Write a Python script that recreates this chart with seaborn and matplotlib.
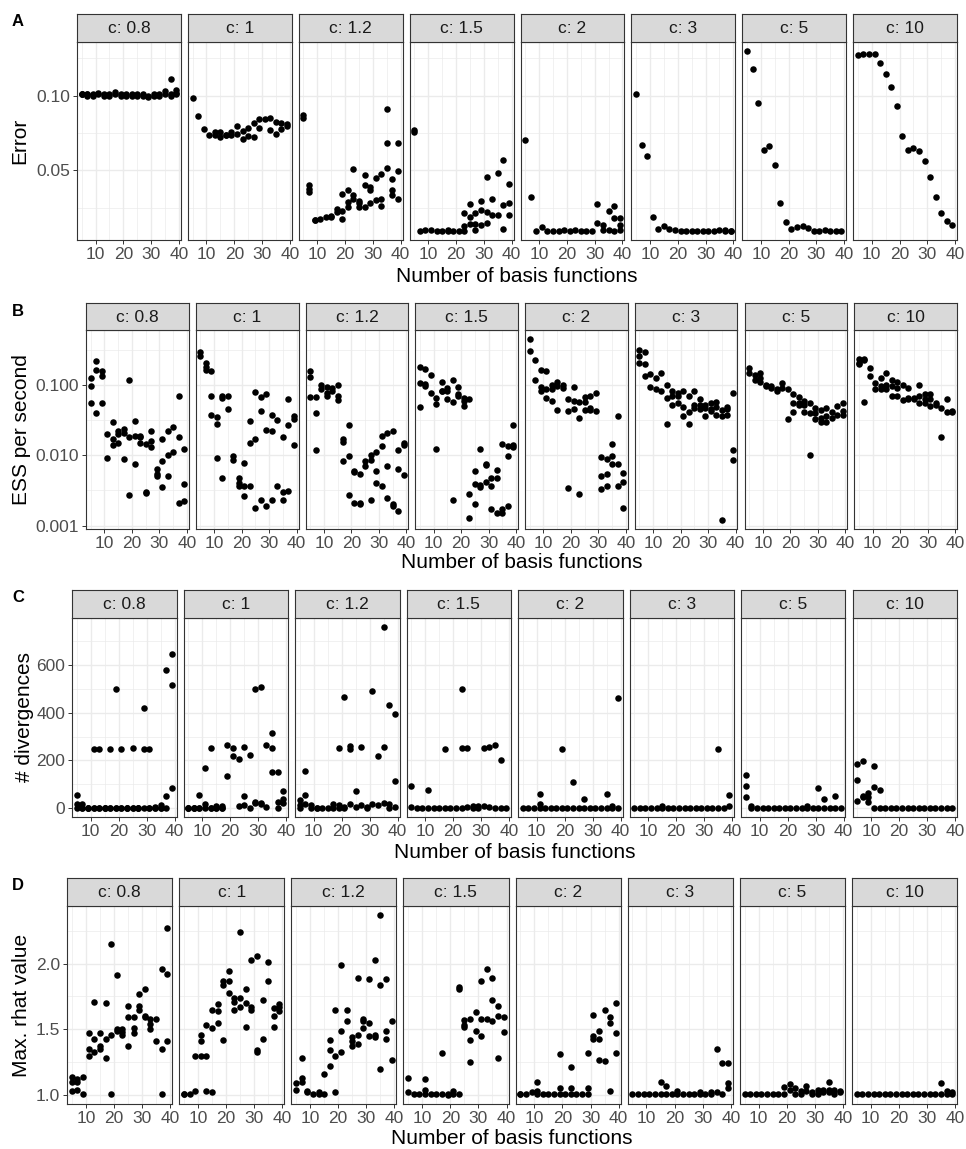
import numpy as np
import pandas as pd
import matplotlib
matplotlib.use("Agg")
import matplotlib.pyplot as plt
import seaborn as sns
from matplotlib.ticker import FixedLocator, FixedFormatter

sns.set_theme(style="white")
plt.rcParams['font.family'] = ['Liberation Sans', 'DejaVu Sans']

# ---------------- data ----------------
N_BASIS = [5, 7, 9, 11, 13, 15, 17, 19, 21, 23, 25, 27, 29, 31, 33, 35, 37, 39]
C_LEVELS = ["0.8", "1", "1.2", "1.5", "2", "3", "5", "10"]

ERROR = {
    "0.8": [[0.101, 0.101, 0.101], [0.101, 0.101, 0.100], [0.101, 0.100], [0.101, 0.102], [0.101, 0.100],
            [0.100, 0.101], [0.1027, 0.101], [0.101, 0.100], [0.101, 0.100], [0.100, 0.101], [0.100, 0.101],
            [0.101, 0.100], [0.099, 0.100], [0.100, 0.101], [0.101, 0.100], [0.1034, 0.101],
            [0.111, 0.101, 0.100], [0.1038, 0.102, 0.101]],
    "1": [[0.0987], [0.0865], [0.0776], [0.074], [0.0758, 0.074], [0.0758, 0.0724], [0.0735, 0.074],
          [0.0758, 0.074], [0.0796, 0.0747], [0.0762, 0.0713], [0.0785, 0.0729], [0.0818, 0.0724],
          [0.0843, 0.0787], [0.0847], [0.0852, 0.077], [0.0825, 0.0747], [0.0818, 0.078], [0.081, 0.080]],
    "1.2": [[0.087, 0.0854], [0.040, 0.0378, 0.0355], [0.017, 0.0165], [0.0175], [0.0186], [0.0197, 0.019],
            [0.0242, 0.022], [0.0343, 0.023, 0.0176], [0.0366, 0.0287, 0.0253], [0.0511, 0.0332, 0.031],
            [0.0298, 0.0253, 0.028], [0.0466, 0.040, 0.0253], [0.0388, 0.0366, 0.0282], [0.045, 0.0302],
            [0.0473, 0.031, 0.026], [0.091, 0.0684, 0.0516], [0.0444, 0.0366, 0.0336], [0.0684, 0.0495, 0.031]],
    "1.5": [[0.0774, 0.0758], [0.0096], [0.0101], [0.0099], [0.0095], [0.0095], [0.0101, 0.0095], [0.0095],
            [0.0095], [0.0215, 0.013, 0.0096], [0.0276, 0.0186, 0.0141], [0.0213, 0.0141, 0.0103],
            [0.0298, 0.0235, 0.0135], [0.0455, 0.0219, 0.0145], [0.031, 0.0204], [0.0484, 0.0204],
            [0.0567, 0.0271, 0.0108], [0.0406, 0.028, 0.0202]],
    "2": [[0.0706], [0.032], [0.0096], [0.0118], [0.0096], [0.0096], [0.0096], [0.0098], [0.0096], [0.0098],
          [0.0096], [0.0096], [0.0096], [0.0276, 0.0145], [0.0135, 0.0101], [0.0231, 0.0101],
          [0.026, 0.0182, 0.0096], [0.0182, 0.0135, 0.0101]],
    "3": [[0.101], [0.0668], [0.0594], [0.0186], [0.0107], [0.0125], [0.0107], [0.0098], [0.0096], [0.0096],
          [0.0096], [0.0096], [0.0096], [0.0096], [0.0096], [0.0098], [0.0098, 0.0094], [0.0096, 0.0094]],
    "5": [[0.130], [0.118], [0.0949], [0.0635], [0.0664], [0.0538], [0.0283], [0.0152], [0.0107], [0.0118],
          [0.0129], [0.0112], [0.0096], [0.0096], [0.0098], [0.0096], [0.0094], [0.0094]],
    "10": [[0.1274], [0.128], [0.1283], [0.1277], [0.1222], [0.1144], [0.1057], [0.0933], [0.0729], [0.0635],
           [0.065], [0.063], [0.0563], [0.0455], [0.032], [0.0213], [0.0159], [0.0137]],
}

ESS = {
    "0.8": [[0.125, 0.097, 0.055], [0.22, 0.167, 0.04], [0.16, 0.134, 0.055], [0.02, 0.0092],
            [0.03, 0.017, 0.014], [0.022, 0.02, 0.015], [0.0235, 0.021, 0.0088], [0.12, 0.018, 0.0027],
            [0.031, 0.019, 0.0075], [0.019, 0.018, 0.015], [0.0144, 0.003, 0.0029], [0.022, 0.016, 0.013],
            [0.0064, 0.0054, 0.005], [0.017, 0.0082, 0.0035], [0.022, 0.0102, 0.005], [0.025, 0.011],
            [0.07, 0.018, 0.0021], [0.0122, 0.0039, 0.0022]],
    "1": [[0.30, 0.26], [0.21, 0.18, 0.167], [0.158, 0.071, 0.037], [0.035, 0.028, 0.0093],
          [0.071, 0.066, 0.0047], [0.071, 0.046], [0.0098, 0.0087], [0.0047, 0.004, 0.0037],
          [0.0079, 0.0037, 0.0026], [0.031, 0.015, 0.0036], [0.08, 0.017, 0.0018], [0.068, 0.043, 0.0023],
          [0.076, 0.023, 0.0019], [0.038, 0.022, 0.0023], [0.032, 0.0036], [0.018, 0.003, 0.0023],
          [0.063, 0.027, 0.0031], [0.036, 0.033, 0.014]],
    "1.2": [[0.158, 0.13, 0.067], [0.067, 0.04, 0.012], [0.1, 0.087], [0.095, 0.078, 0.071], [0.092, 0.082],
            [0.1, 0.071, 0.061], [0.017, 0.0155, 0.0084], [0.027, 0.0098, 0.0027], [0.006, 0.0057, 0.0021],
            [0.0055, 0.0021, 0.002], [0.0084, 0.0071], [0.0102, 0.0087, 0.0023], [0.0112, 0.006, 0.004],
            [0.019, 0.0136, 0.0036], [0.021, 0.0071, 0.0025], [0.022, 0.002, 0.0019], [0.012, 0.0064, 0.0016],
            [0.015, 0.014, 0.0052]],
    "1.5": [[0.18, 0.108, 0.049], [0.17, 0.105, 0.097], [0.14, 0.078], [0.065, 0.054, 0.0125],
            [0.11, 0.084, 0.082], [0.092, 0.083, 0.063], [0.12, 0.057, 0.0023], [0.094, 0.076, 0.071],
            [0.066, 0.059, 0.051], [0.063, 0.0028, 0.0013], [0.0059, 0.0039, 0.002], [0.0122, 0.0038, 0.0035],
            [0.0075, 0.0072, 0.0042], [0.0048, 0.0036, 0.0017], [0.0062, 0.0048, 0.0015],
            [0.0144, 0.0017, 0.0015], [0.0137, 0.0098, 0.0019], [0.027, 0.014, 0.013]],
    "2": [[0.455, 0.31], [0.23, 0.12], [0.163, 0.095, 0.082], [0.158, 0.087, 0.066], [0.1, 0.087, 0.059],
          [0.11, 0.097, 0.044], [0.1, 0.092], [0.063, 0.043, 0.0034], [0.095, 0.059, 0.046],
          [0.057, 0.034, 0.0028], [0.068, 0.057, 0.045], [0.071, 0.048, 0.044], [0.078, 0.043],
          [0.0095, 0.005, 0.0033], [0.009, 0.0055, 0.0037], [0.0147, 0.0098, 0.0075], [0.036, 0.0075, 0.0036],
          [0.0056, 0.0042, 0.0018]],
    "3": [[0.32, 0.26, 0.21], [0.30, 0.2, 0.134], [0.146, 0.095], [0.127, 0.089], [0.15, 0.082],
          [0.1, 0.066, 0.028], [0.082, 0.071, 0.052], [0.078, 0.07, 0.056], [0.082, 0.049, 0.036],
          [0.07, 0.041, 0.028], [0.082, 0.053, 0.048], [0.063, 0.053, 0.046], [0.053, 0.048, 0.036],
          [0.056, 0.046, 0.043], [0.057, 0.049, 0.038], [0.045, 0.036, 0.0012], [0.049, 0.046, 0.037],
          [0.078, 0.012, 0.0085]],
    "5": [[0.175, 0.15], [0.142, 0.12], [0.15, 0.127, 0.11], [0.097, 0.1], [0.097, 0.092], [0.089, 0.082],
          [0.108, 0.092], [0.089, 0.033], [0.074, 0.056, 0.041], [0.068, 0.056, 0.052], [0.059, 0.052, 0.041],
          [0.055, 0.04, 0.01], [0.048, 0.04, 0.033], [0.044, 0.034, 0.03], [0.048, 0.036, 0.03], [0.041, 0.034],
          [0.05, 0.038], [0.055, 0.043, 0.038]],
    "10": [[0.24, 0.21, 0.2], [0.235, 0.225, 0.058], [0.175, 0.134], [0.108, 0.087], [0.127, 0.097, 0.087],
           [0.15, 0.1, 0.089], [0.12, 0.097, 0.071], [0.11, 0.092, 0.071], [0.1, 0.061], [0.092, 0.066, 0.063],
           [0.066, 0.063], [0.1, 0.071, 0.056], [0.074, 0.063, 0.056], [0.074, 0.064, 0.05], [0.056, 0.053],
           [0.048, 0.018], [0.064, 0.041], [0.043, 0.041]],
}

DIVERGENCES = {
    "0.8": [[53, 18, 0], [15, 0, 0], [0, 0, 0], [249, 0, 0], [249, 0, 0], [0, 0, 0], [249, 0, 0], [501, 0, 0],
            [249, 0, 0], [0, 0, 0], [253, 0, 0], [0, 0, 0], [421, 249, 0], [249, 0, 0], [4, 0, 0], [11, 0, 0],
            [578, 49, 0], [648, 518, 84]],
    "1": [[0, 0, 0], [0, 0, 0], [56, 0, 0], [169, 15, 0], [252, 0, 0], [7, 0, 0], [7, 0, 0], [266, 134],
          [252, 217], [206, 7], [256, 49, 14], [223, 0], [501, 25, 21], [508, 21, 15], [266, 4],
          [315, 252, 150], [150, 25, 0], [71, 39, 21]],
    "1.2": [[32, 14, 0], [154, 53, 15], [11, 0], [0, 0], [0], [0], [15, 0], [253, 11, 0], [466, 4, 0],
            [259, 249, 15], [70, 4], [256, 11], [4, 0], [491, 15], [218, 11], [760, 256, 21], [431, 15, 0],
            [396, 112, 4]],
    "1.5": [[91, 4], [0], [0], [77, 0], [0], [0], [249, 0], [0], [0], [501, 253, 0], [252, 4], [7, 0], [7, 0],
            [252, 7], [256, 4], [263, 0], [203, 0], [0]],
    "2": [[0], [0], [0], [60, 18, 0], [0], [0], [0], [249, 0], [0], [109, 0], [0], [39, 0], [0], [0], [0],
          [60, 0], [7, 0], [462, 0]],
    "3": [[0], [0], [0], [0], [0], [7, 0], [0], [0], [0], [0], [0], [0], [0], [0], [0], [249, 0], [0], [53, 7]],
    "5": [[140, 92, 45], [7, 0], [0], [0], [0], [0], [0], [0], [0], [0], [0], [7, 0], [0], [85, 0], [39, 0],
          [0], [49, 0], [0]],
    "10": [[185, 119, 28], [197, 49, 46], [63, 46, 25], [175, 88, 0], [77, 0], [0], [0], [0], [0], [0], [0],
           [0], [0], [0], [0], [0], [0], [0]],
}

RHAT = {
    "0.8": [[1.14, 1.10, 1.03], [1.12, 1.10, 1.04], [1.14, 1.01], [1.47, 1.35, 1.30], [1.71, 1.43, 1.33],
            [1.47, 1.37, 1.35], [1.70, 1.43, 1.28], [2.15, 1.46, 1.01], [1.91, 1.50, 1.49], [1.50, 1.48, 1.46],
            [1.68, 1.59, 1.37], [1.59, 1.51, 1.47], [1.77, 1.68, 1.65], [1.81, 1.60, 1.59], [1.58, 1.54, 1.50],
            [1.58, 1.41], [1.96, 1.35, 1.01], [2.27, 1.92, 1.41]],
    "1": [[1.01, 1.01], [1.01], [1.30, 1.03], [1.46, 1.41, 1.30], [1.53, 1.30, 1.03], [1.65, 1.51, 1.02],
          [1.69, 1.64, 1.55], [1.87, 1.84, 1.42], [1.94, 1.87, 1.78], [1.74, 1.71, 1.65], [2.24, 1.74, 1.67],
          [1.81, 1.70, 1.52], [2.03, 1.67, 1.65], [2.06, 1.34, 1.33], [1.72, 1.43], [2.01, 1.87],
          [1.66, 1.60, 1.52], [1.69, 1.67, 1.64]],
    "1.2": [[1.09, 1.04], [1.28, 1.13, 1.10], [1.03, 1.02], [1.01], [1.02, 1.01], [1.16, 1.01],
            [1.42, 1.34, 1.22], [1.65, 1.30, 1.02], [1.99, 1.49, 1.33], [1.65, 1.56], [1.44, 1.41, 1.37],
            [1.89, 1.46, 1.39], [1.58, 1.56, 1.51], [1.88, 1.55, 1.45], [2.03, 1.46, 1.44], [2.37, 1.84, 1.20],
            [1.88, 1.49, 1.43], [1.56, 1.27]],
    "1.5": [[1.13, 1.02], [1.01], [1.01], [1.12, 1.04, 1.01], [1.01], [1.01], [1.32, 1.01], [1.01, 1.00],
            [1.03, 1.01], [1.82, 1.81, 1.01], [1.57, 1.53, 1.52], [1.58, 1.42, 1.25], [1.63, 1.49],
            [1.87, 1.58, 1.45], [1.96, 1.58], [1.89, 1.72, 1.56], [1.68, 1.60, 1.28], [1.59, 1.48]],
    "2": [[1.01, 1.01], [1.01], [1.02], [1.10, 1.03, 1.01], [1.01], [1.01], [1.01], [1.31, 1.05, 1.01], [1.01],
          [1.21, 1.05, 1.01], [1.01], [1.01], [1.32, 1.05, 1.01], [1.61, 1.45, 1.43], [1.49, 1.43, 1.27],
          [1.65, 1.26], [1.59, 1.55, 1.03], [1.70, 1.47, 1.32]],
    "3": [[1.01], [1.01], [1.01], [1.01], [1.01], [1.10, 1.01], [1.07, 1.01], [1.01], [1.03, 1.01], [1.01],
          [1.01], [1.01], [1.02, 1.01], [1.01], [1.02, 1.01], [1.35, 1.02], [1.24, 1.01], [1.24, 1.09, 1.05]],
    "5": [[1.01], [1.01], [1.01], [1.01], [1.01], [1.01], [1.01], [1.06, 1.01], [1.08, 1.04], [1.05, 1.01],
          [1.03, 1.01], [1.07, 1.03], [1.02, 1.01], [1.04, 1.01], [1.04, 1.02], [1.10, 1.04, 1.02],
          [1.04, 1.01], [1.02, 1.03]],
    "10": [[1.01], [1.01], [1.01], [1.01], [1.01], [1.01], [1.01], [1.01], [1.01], [1.01], [1.01], [1.01],
           [1.01], [1.01], [1.01], [1.09, 1.01], [1.03, 1.01], [1.02, 1.01]],
}


def to_long(metric, table):
    rows = []
    for c in C_LEVELS:
        for n, vals in zip(N_BASIS, table[c]):
            for v in vals:
                rows.append((metric, c, n, v))
    return rows


df = pd.DataFrame(
    to_long("error", ERROR) + to_long("ess", ESS) + to_long("div", DIVERGENCES) + to_long("rhat", RHAT),
    columns=["metric", "c", "n", "value"],
)

# ---------------- layout ----------------
W, H = 966, 1149
fig = plt.figure(figsize=(W / 100, H / 100), dpi=100)
fig.patch.set_facecolor("white")

ROWS = [
    dict(metric="error", tag="A", title="Error", left=77, st=14, sb=42, pb=240, xl=276, yl=20, log=False,
         ticks=[0.05, 0.10], labels=["0.05", "0.10"], minor=[0.025, 0.075, 0.125]),
    dict(metric="ess", tag="B", title="ESS per second", left=86, st=303, sb=330, pb=529, xl=563, yl=22, log=True,
         ticks=[0.001, 0.01, 0.1], labels=["0.001", "0.010", "0.100"],
         minor=[10 ** -2.5, 10 ** -1.5, 10 ** -0.5]),
    dict(metric="div", tag="C", title="# divergences", left=72, st=590, sb=618, pb=817, xl=852, yl=24, log=False,
         ticks=[0, 200, 400, 600], labels=["0", "200", "400", "600"], minor=[100, 300, 500, 700]),
    dict(metric="rhat", tag="D", title="Max. rhat value", left=67, st=878, sb=906, pb=1104, xl=1139, yl=22,
         log=False, ticks=[1.0, 1.5, 2.0], labels=["1.0", "1.5", "2.0"], minor=[1.25, 1.75, 2.25]),
]
RIGHT = 957
GAP = 7
BORDER = "#333333"
TICKCOL = "#4D4D4D"
GRID = "#EBEBEB"

xlo = 5 - 0.05 * (39 - 5)
xhi = 39 + 0.05 * (39 - 5)

for row in ROWS:
    sub = df[df.metric == row["metric"]]
    v = sub["value"].to_numpy(dtype=float)
    if row["log"]:
        lo, hi = np.log10(v.min()), np.log10(v.max())
        pad = 0.05 * (hi - lo)
        ylim = (10 ** (lo - pad), 10 ** (hi + pad))
    else:
        lo, hi = v.min(), v.max()
        pad = 0.05 * (hi - lo)
        ylim = (lo - pad, hi + pad)

    pw = (RIGHT - row["left"] - GAP * 7) / 8
    for i, c in enumerate(C_LEVELS):
        x0 = row["left"] + i * (pw + GAP)
        ax = fig.add_axes([x0 / W, 1 - row["pb"] / H, pw / W, (row["pb"] - row["sb"]) / H])
        ax.set_facecolor("white")
        d = sub[sub.c == c]
        sns.scatterplot(data=d, x="n", y="value", ax=ax, color="black", s=22, linewidth=0, zorder=3)
        if row["log"]:
            ax.set_yscale("log")
        ax.set_xlim(xlo, xhi)
        ax.set_ylim(*ylim)
        ax.xaxis.set_major_locator(FixedLocator([10, 20, 30, 40]))
        ax.xaxis.set_major_formatter(FixedFormatter(["10", "20", "30", "40"]))
        ax.xaxis.set_minor_locator(FixedLocator([5, 15, 25, 35]))
        ax.yaxis.set_major_locator(FixedLocator(row["ticks"]))
        ax.yaxis.set_major_formatter(FixedFormatter(row["labels"]))
        ax.yaxis.set_minor_locator(FixedLocator(row["minor"]))
        ax.grid(True, which="major", color=GRID, linewidth=1.0)
        ax.grid(True, which="minor", color=GRID, linewidth=0.5)
        ax.set_axisbelow(True)
        ax.tick_params(which="major", direction="out", length=3, width=0.7, color=BORDER,
                       labelsize=12.5, labelcolor=TICKCOL, pad=2,
                       bottom=True, left=(i == 0), labelleft=(i == 0))
        ax.tick_params(which="minor", length=0)
        ax.set_xlabel("")
        ax.set_ylabel("")
        for sp in ax.spines.values():
            sp.set_color(BORDER)
            sp.set_linewidth(0.8)

        sax = fig.add_axes([x0 / W, 1 - row["sb"] / H, pw / W, (row["sb"] - row["st"]) / H])
        sax.set_facecolor("#D9D9D9")
        sax.set_xticks([])
        sax.set_yticks([])
        for sp in sax.spines.values():
            sp.set_color(BORDER)
            sp.set_linewidth(0.8)
        sax.text(0.5, 0.47, f"c: {c}", ha="center", va="center", fontsize=12.5, color="#1A1A1A",
                 transform=sax.transAxes)

    # axis titles and tag
    fig.text((row["left"] + RIGHT) / 2 / W, 1 - row["xl"] / H, "Number of basis functions",
             ha="center", va="center", fontsize=15, color="black")
    fig.text(row["yl"] / W, 1 - (row["sb"] + row["pb"]) / 2 / H, row["title"], rotation=90,
             ha="center", va="center", fontsize=15, color="black")
    fig.text(18 / W, 1 - (row["st"] + 8) / H, row["tag"], ha="center", va="center",
             fontsize=12, fontweight="bold", color="black")

fig.savefig("out.png", dpi=100, facecolor="white")
